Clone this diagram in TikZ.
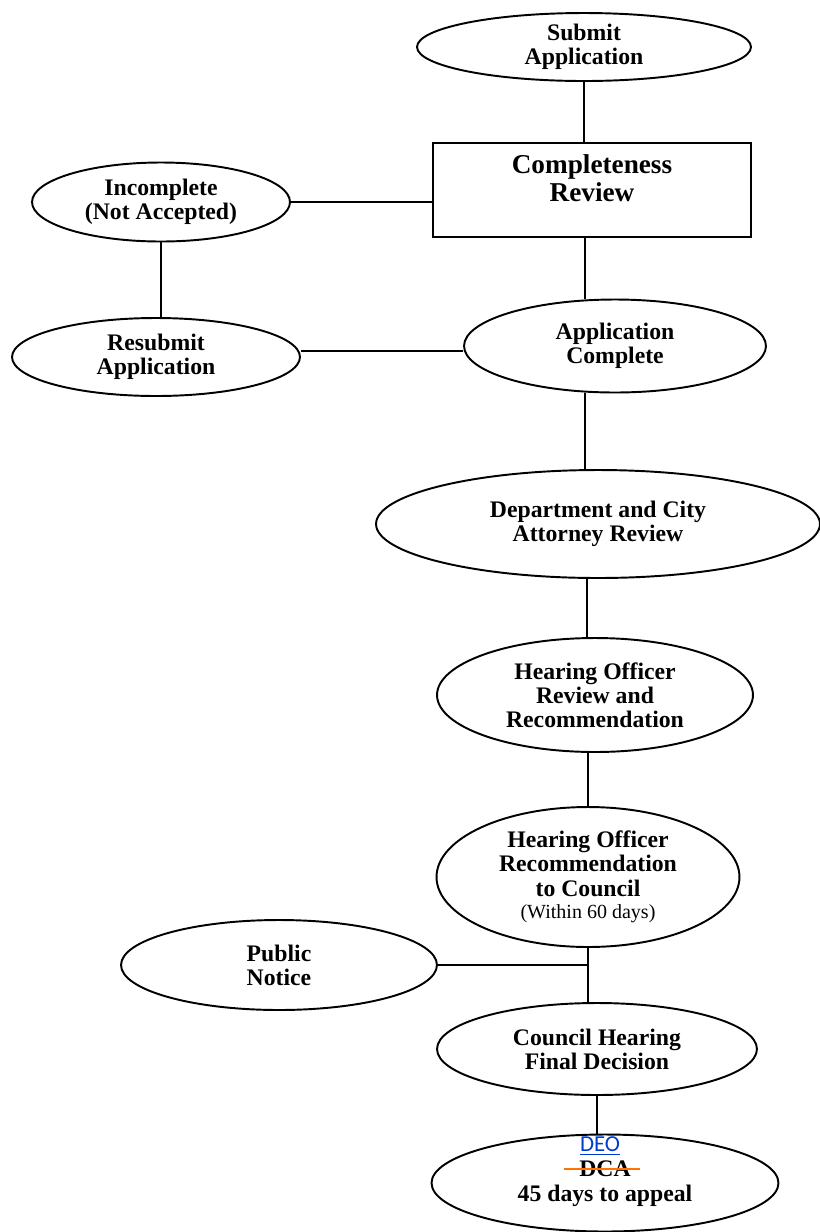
\documentclass[tikz,border=0pt]{standalone}
\usepackage{fontspec}
\setmainfont{Liberation Serif}
\newfontfamily\deofont{Carlito}
\usetikzlibrary{shapes.geometric}

\begin{document}
\begin{tikzpicture}[
		x=0.02cm, y=-0.02cm,
		line width=1.1pt,
		every node/.style={align=center,inner sep=0pt,font=\fontsize{13.5}{13.8}\selectfont\bfseries},
		stage/.style={ellipse,draw},
		checkbox/.style={rectangle,draw,minimum width=6.36cm,minimum height=1.88cm,font=\fontsize{15.5}{15.5}\selectfont\bfseries}
		]
		\useasboundingbox (0,0) rectangle (820,1232);
		\node[stage,minimum width=6.68cm,minimum height=1.36cm] (submit) at (584,47) {Submit\\Application};
		\node[checkbox] (review) at (592,190) {Completeness\\Review\\[-2pt]};
		\node[stage,minimum width=5.16cm,minimum height=1.58cm] (incomplete) at (161,202) {Incomplete\\(Not Accepted)};
		\node[stage,minimum width=5.76cm,minimum height=1.56cm] (resubmit) at (156,357) {Resubmit\\Application};
		\node[stage,minimum width=6.04cm,minimum height=1.86cm] (complete) at (615,346) {Application\\Complete};
		\node[stage,minimum width=8.88cm,minimum height=2.16cm] (attorney) at (598,524) {Department and City\\Attorney Review};
		\node[stage,minimum width=6.32cm,minimum height=2.28cm] (officer) at (595,695) {Hearing Officer\\Review and\\Recommendation};
		\node[stage,minimum width=6.06cm,minimum height=2.80cm] (council) at (588,877) {Hearing Officer\\Recommendation\\to Council\\[-1pt]{\fontsize{11.4}{12}\selectfont\mdseries(Within 60 days)}};
		\node[stage,minimum width=6.32cm,minimum height=1.80cm] (notice) at (279,965) {Public\\Notice};
		\node[stage,minimum width=6.40cm,minimum height=1.84cm] (hearing) at (597,1049) {Council Hearing\\Final Decision};
		\node[stage,minimum width=6.94cm,minimum height=1.94cm] (appeal) at (605,1183) {};
		\node[font=\deofont\fontsize{13}{14}\selectfont,text=blue!70!cyan!80!black] (deo) at (600,1146) {\underline{DEO}};
		\node (dca) at (605,1169) {DCA};
		\node (days) at (605,1196) {45 days to appeal};

		\draw (submit.south) -- (submit.south |- review.north);
		\draw (incomplete.east) -- (incomplete.east -| review.west);
		\draw ([xshift=-0.14cm]review.south) -- ([xshift=-0.14cm]review.south |- complete.north);
		\draw (incomplete.south) -- (incomplete.south |- resubmit.north);
		\draw ([yshift=0.12cm]resubmit.east) -- ([yshift=0.12cm]resubmit.east -| complete.west);
		\draw ([xshift=-0.26cm]attorney.north) -- ([xshift=-0.26cm]attorney.north |- complete.south);
		\draw ([xshift=-0.16cm]officer.north) -- ([xshift=-0.16cm]officer.north |- attorney.south);
		\draw (council.north) -- (council.north |- officer.south);
		\draw (council.south) -- (council.south |- hearing.north);
		\draw (notice.east) -- (notice.east -| council.south);
		\draw (hearing.south) -- (hearing.south |- appeal.north);
		\draw[orange!90!red,line width=1.5pt] ([xshift=-0.28cm]dca.west) -- ([xshift=0.16cm]dca.east);
	\end{tikzpicture}
\end{document}
